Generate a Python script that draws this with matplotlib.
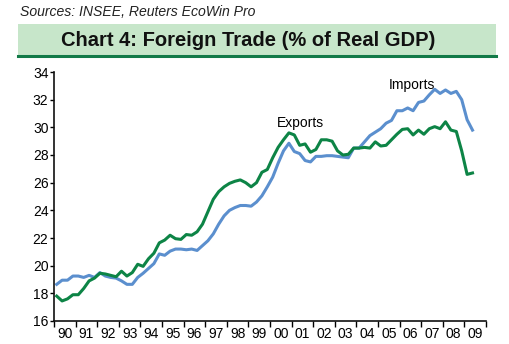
import matplotlib
matplotlib.use("Agg")
import matplotlib.pyplot as plt
from matplotlib.patches import Rectangle
from matplotlib.lines import Line2D
import numpy as np

plt.rcParams['font.family'] = ['Liberation Sans', 'DejaVu Sans']

start_year = 1990
exports = [17.8, 17.45, 17.6, 17.9,
           17.9, 18.35, 18.9, 19.1,
           19.45, 19.4, 19.3, 19.2,
           19.6, 19.25, 19.5, 20.1,
           19.95, 20.5, 20.9, 21.65,
           21.85, 22.2, 21.95, 21.9,
           22.25, 22.2, 22.45, 23.0,
           23.9, 24.8, 25.35, 25.7,
           25.95, 26.1, 26.2, 26.0,
           25.7, 26.0, 26.75, 26.95,
           27.8, 28.55, 29.1, 29.6,
           29.45, 28.7, 28.8, 28.2,
           28.4, 29.1, 29.1, 29.0,
           28.3, 28.0, 28.05, 28.5,
           28.5, 28.55, 28.5, 28.95,
           28.65, 28.7, 29.1, 29.5,
           29.85, 29.9, 29.45, 29.8,
           29.5, 29.9, 30.05, 29.9,
           30.4, 29.8, 29.7, 28.3,
           26.6, 26.7]
imports = [18.65, 18.95, 18.95, 19.25,
           19.25, 19.15, 19.3, 19.15,
           19.5, 19.25, 19.15, 19.1,
           18.9, 18.65, 18.65, 19.15,
           19.45, 19.8, 20.15, 20.85,
           20.75, 21.05, 21.2, 21.2,
           21.15, 21.2, 21.1, 21.45,
           21.8, 22.3, 23.0, 23.6,
           24.0, 24.2, 24.35, 24.35,
           24.3, 24.6, 25.05, 25.7,
           26.4, 27.4, 28.3, 28.85,
           28.25, 28.1, 27.6, 27.5,
           27.9, 27.9, 27.95, 27.95,
           27.9, 27.85, 27.8, 28.5,
           28.5, 28.95, 29.4, 29.65,
           29.9, 30.3, 30.5, 31.2,
           31.2, 31.4, 31.2, 31.8,
           31.9, 32.35, 32.75, 32.45,
           32.7, 32.45, 32.6, 32.0,
           30.55, 29.8]
year_labels = ['90', '91', '92', '93', '94', '95', '96', '97', '98', '99',
               '00', '01', '02', '03', '04', '05', '06', '07', '08', '09']
y_ticks = [16, 18, 20, 22, 24, 26, 28, 30, 32, 34]

W, H = 510, 344
fig = plt.figure(figsize=(W / 100, H / 100), dpi=100)
fig.patch.set_facecolor('white')

# Source line
fig.text(20 / W, 1 - 12 / H, 'Sources: INSEE, Reuters EcoWin Pro', style='italic',
         fontsize=10.1, color='#222222', va='center', ha='left')

# Title band
band = Rectangle((18 / W, 1 - 55 / H), (496 - 18) / W, (55 - 24) / H,
                 transform=fig.transFigure, facecolor='#c7e6ca', edgecolor='none')
fig.patches.append(band)
fig.lines.append(Line2D([18 / W, 496 / W], [1 - 55.5 / H, 1 - 55.5 / H],
                        transform=fig.transFigure, color='#127a48', lw=2.2))
fig.text(248 / W, 1 - 40 / H, 'Chart 4: Foreign Trade (% of Real GDP)',
         fontsize=14.5, fontweight='bold', color='#111111', ha='center', va='center')

ax = fig.add_axes([54 / W, 1 - 321 / H, (486 - 54) / W, (321 - 72) / H])
n = len(exports)
x = start_year + (np.arange(n) + 0.5) / 4
ax.plot(x, imports, color='#5b8fce', lw=2.2, solid_joinstyle='round')
ax.plot(x, exports, color='#0d8446', lw=2.2, solid_joinstyle='round')

ax.set_xlim(start_year, start_year + len(year_labels))
ax.set_ylim(16, 34)
ax.set_yticks(y_ticks)
ax.set_yticklabels([str(v) for v in y_ticks])
ax.set_xticks(np.arange(start_year, start_year + len(year_labels) + 1))
ax.set_xticklabels([])
ax.set_xticks(np.arange(len(year_labels)) + start_year + 0.5, minor=True)
ax.set_xticklabels(year_labels, minor=True)
ax.tick_params(axis='x', which='minor', length=0, labelsize=10, pad=4)
ax.tick_params(axis='x', which='major', length=4, direction='out', width=1)
ax.tick_params(axis='y', length=3, direction='out', width=1, labelsize=10, pad=1)
for s in ['top', 'right']:
    ax.spines[s].set_visible(False)
for s in ['left', 'bottom']:
    ax.spines[s].set_linewidth(1.2)
    ax.spines[s].set_color('#111111')

ax.text(2001.4, 29.8, 'Exports', fontsize=10, ha='center', va='bottom')
ax.text(2006.55, 32.55, 'Imports', fontsize=10, ha='center', va='bottom')

fig.savefig('out.png', dpi=100)
